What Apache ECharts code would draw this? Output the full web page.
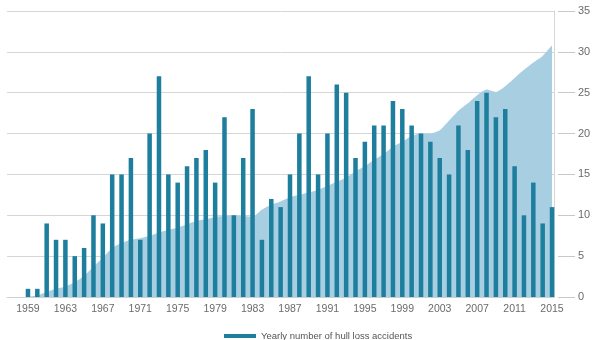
<!DOCTYPE html>
<html>
<head>
<meta charset="utf-8">
<script src="https://cdn.jsdelivr.net/npm/echarts@6/dist/echarts.min.js"></script>
<style>
html,body{margin:0;padding:0;background:#fff;}
#chart{width:600px;height:340px;}
</style>
</head>
<body>
<div id="chart"></div>
<script>
var years = [];
for (var y = 1959; y <= 2015; y++) years.push(y);

var hullLosses = [1,1,9,7,7,5,6,10,9,15,15,17,7,20,27,15,14,16,17,18,14,22,10,17,23,7,12,11,15,20,27,15,20,26,25,17,19,21,21,24,23,21,20,19,17,15,21,18,24,25,22,23,16,10,14,9,11];

var backgroundArea = [0,0.2,0.6,1.0,1.3,1.8,2.6,3.7,4.8,6.0,6.6,7.0,7.2,7.5,7.9,8.2,8.5,8.9,9.3,9.5,9.8,9.9,10.0,9.9,9.8,10.7,11.3,11.7,12.2,12.5,12.8,13.1,13.6,14.1,14.6,15.4,16.0,16.8,17.5,18.4,19.0,19.7,20.0,20.0,20.4,21.6,22.8,23.7,24.7,25.4,25.1,25.8,26.8,27.8,28.7,29.5,30.8];

var xTickLabels = [1959,1963,1967,1971,1975,1979,1983,1987,1991,1995,1999,2003,2007,2011,2015];
var yTicks = [0,5,10,15,20,25,30,35];

var seriesName = 'Yearly number of hull loss accidents';

var barData = years.map(function(y,i){return [y, hullLosses[i]];});
var areaData = years.map(function(y,i){return [y, backgroundArea[i]];});

var chart = echarts.init(document.getElementById('chart'));
var txt = '#6b6b6b';
chart.setOption({
  animation: false,
  textStyle: {fontFamily: 'Liberation Sans, Arial, sans-serif'},
  grid: {left: 7, right: 46, top: 11, bottom: 43},
  legend: {
    data: [{name: seriesName, icon: 'rect'}],
    left: 219, top: 326,
    itemWidth: 32, itemHeight: 4, itemGap: 6,
    textStyle: {color: '#555', fontSize: 9.5, fontFamily: 'Liberation Sans, Arial, sans-serif'}
  },
  xAxis: {
    type: 'value',
    min: 1956.76, max: 2015.21,
    axisLine: {show: true, lineStyle: {color: '#cfcfcf', width: 1}},
    axisTick: {show: false},
    splitLine: {show: false},
    axisLabel: {
      customValues: xTickLabels,
      color: txt, fontSize: 10.5, margin: 7,
      formatter: function(v){return String(v);}
    }
  },
  yAxis: [{
    type: 'value', position: 'right', min: 0, max: 35, interval: 5,
    offset: 4,
    axisLine: {show: false},
    axisTick: {show: true, length: 17, lineStyle: {color: '#c8c8c8'}},
    axisLabel: {color: txt, fontSize: 11, margin: 20,
      customValues: yTicks},
    splitLine: {show: true, lineStyle: {color: '#d6d6d6', width: 1}}
  }, {
    type: 'value', position: 'right', min: 0, max: 35, interval: 5,
    axisLine: {show: true, lineStyle: {color: '#d6d6d6', width: 1}},
    axisTick: {show: false}, axisLabel: {show: false}, splitLine: {show: false}
  }],
  series: [{
    name: 'area',
    type: 'line',
    data: areaData,
    symbol: 'none',
    smooth: 0.2,
    lineStyle: {width: 0},
    areaStyle: {color: '#a8cee2', opacity: 1},
    z: 1
  }, {
    name: seriesName,
    type: 'bar',
    data: barData,
    barWidth: 4.5,
    itemStyle: {color: '#1d7e9e'},
    z: 3
  }]
});
</script>
</body>
</html>
